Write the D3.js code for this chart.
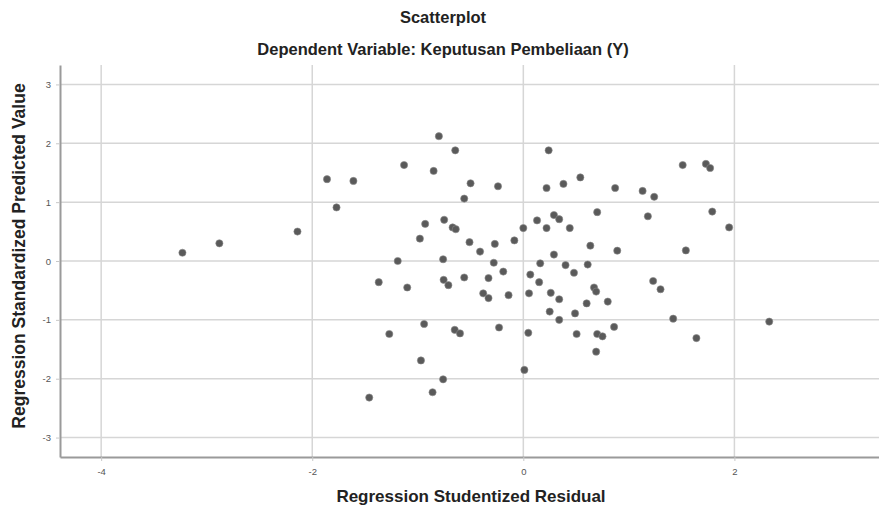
<!DOCTYPE html>
<html>
  <head>
    <meta charset="utf-8">
    <title>Scatterplot</title>
    <script src="https://d3js.org/d3.v7.min.js"></script>
    <style>
      body { margin: 0; background: #fff; }
      text { font-family: "Liberation Sans", Arial, sans-serif; }
    </style>
  </head>
  <body>
  </body>
  <script type="text/javascript">
    // studentized residuals (x) and standardized predicted values (y)
    var residual = [-3.23, -2.88, -2.14, -1.86, -1.61, -1.77, -0.80, -0.645, 0.24, -1.13,
      -0.85, -0.50, -0.24, 0.22, 0.38, 0.54, -0.56, 0.70, -0.93, -0.75,
      -0.67, -0.64, 0.00, 0.13, 0.29, 0.34, 0.22, 0.44, -0.98, -0.51,
      -0.27, -0.085, -0.41, 0.635, 0.29, -1.19, -0.76, -0.28, -0.19, 0.16,
      0.40, 0.48, 0.61, 0.066, 0.15, -1.37, -1.10, -0.755, -0.71, -0.56,
      -0.33, -0.38, -0.33, -0.14, 0.054, 0.26, 0.34, 0.67, 0.69, 0.60,
      0.80, 0.25, 0.34, 0.49, -0.94, -1.27, -0.65, -0.60, -0.23, 0.047,
      0.505, 0.70, 0.75, 0.69, -0.97, 0.01, -0.76, -0.86, -1.46, 1.51,
      1.73, 1.77, 0.87, 1.13, 1.24, 1.18, 1.79, 1.95, 0.89, 1.54,
      1.23, 1.30, 1.42, 2.33, 0.86, 1.64];
    var predicted = [0.14, 0.30, 0.50, 1.39, 1.36, 0.91, 2.12, 1.88, 1.88, 1.63,
      1.53, 1.32, 1.27, 1.24, 1.31, 1.42, 1.06, 0.83, 0.63, 0.70,
      0.57, 0.54, 0.56, 0.69, 0.78, 0.71, 0.56, 0.56, 0.38, 0.32,
      0.29, 0.35, 0.16, 0.26, 0.11, 0.00, 0.03, -0.03, -0.18, -0.04,
      -0.07, -0.20, -0.06, -0.23, -0.36, -0.36, -0.45, -0.32, -0.41, -0.28,
      -0.29, -0.55, -0.63, -0.58, -0.55, -0.54, -0.65, -0.45, -0.52, -0.72,
      -0.69, -0.86, -1.00, -0.89, -1.07, -1.24, -1.17, -1.23, -1.13, -1.22,
      -1.24, -1.24, -1.28, -1.54, -1.69, -1.85, -2.01, -2.23, -2.32, 1.63,
      1.65, 1.58, 1.24, 1.19, 1.09, 0.76, 0.84, 0.57, 0.175, 0.18,
      -0.34, -0.48, -0.98, -1.03, -1.12, -1.31];
    var xTicks = [-4, -2, 0, 2];
    var yTicks = [-3, -2, -1, 0, 1, 2, 3];

    var width = 879, height = 511;
    var plotLeft = 60, plotRight = 879, plotTop = 65, plotBottom = 457;

    var svg = d3.select("body").append("svg")
      .attr("width", width)
      .attr("height", height);

    var x = d3.scaleLinear().domain([-4.39, 3.37]).range([plotLeft, plotRight]);
    var y = d3.scaleLinear().domain([-3.33, 3.33]).range([plotBottom, plotTop]);

    // grid
    svg.append("g").selectAll("line")
      .data(yTicks)
      .enter().append("line")
        .attr("x1", plotLeft).attr("x2", plotRight)
        .attr("y1", function(d){ return y(d); })
        .attr("y2", function(d){ return y(d); })
        .attr("stroke", "#d6d6d6")
        .attr("stroke-width", 1.5);

    svg.append("g").selectAll("line")
      .data(xTicks)
      .enter().append("line")
        .attr("y1", plotTop).attr("y2", plotBottom)
        .attr("x1", function(d){ return x(d); })
        .attr("x2", function(d){ return x(d); })
        .attr("stroke", "#d6d6d6")
        .attr("stroke-width", 1.5);

    // axes
    var fmt = function(d){ return String(d); };
    var xAxis = svg.append("g")
      .attr("transform", "translate(0," + plotBottom + ")")
      .call(d3.axisBottom(x).tickValues(xTicks).tickSize(4).tickSizeOuter(0).tickFormat(fmt));
    var yAxis = svg.append("g")
      .attr("transform", "translate(" + plotLeft + ",0)")
      .call(d3.axisLeft(y).tickValues(yTicks).tickSize(4).tickSizeOuter(0).tickFormat(fmt));

    [xAxis, yAxis].forEach(function(a){
      a.select(".domain").attr("stroke", "#9a9a9a").attr("stroke-width", 2);
      a.selectAll(".tick line").attr("stroke", "#c8c8c8");
      a.selectAll(".tick text")
        .attr("fill", "#555")
        .style("font-size", "9.5px")
        .style("font-family", "Liberation Sans, Arial, sans-serif");
    });
    xAxis.selectAll(".tick text").attr("dy", "1.2em");
    yAxis.selectAll(".tick text").attr("x", -9);

    // points
    var pts = residual.map(function(v, i){ return {r: v, p: predicted[i]}; });
    svg.append("g").selectAll("circle")
      .data(pts)
      .enter().append("circle")
        .attr("cx", function(d){ return x(d.r); })
        .attr("cy", function(d){ return y(d.p); })
        .attr("r", 3.6)
        .attr("fill", "#5a5a5a")
        .attr("stroke", "#8a8a8a")
        .attr("stroke-width", 0.6);

    // titles
    svg.append("text")
      .attr("x", 443).attr("y", 23)
      .attr("text-anchor", "middle")
      .style("font-size", "16.5px").style("font-weight", "bold")
      .attr("fill", "#222")
      .text("Scatterplot");
    svg.append("text")
      .attr("x", 443).attr("y", 55)
      .attr("text-anchor", "middle")
      .style("font-size", "16.5px").style("font-weight", "bold")
      .attr("fill", "#222")
      .text("Dependent Variable: Keputusan Pembeliaan (Y)");
    svg.append("text")
      .attr("x", 471).attr("y", 502)
      .attr("text-anchor", "middle")
      .style("font-size", "17px").style("font-weight", "bold")
      .attr("fill", "#222")
      .text("Regression Studentized Residual");
    svg.append("text")
      .attr("transform", "translate(25,256) rotate(-90)")
      .attr("text-anchor", "middle")
      .style("font-size", "17.5px").style("font-weight", "bold")
      .attr("fill", "#222")
      .text("Regression Standardized Predicted Value");
  </script>
</html>
